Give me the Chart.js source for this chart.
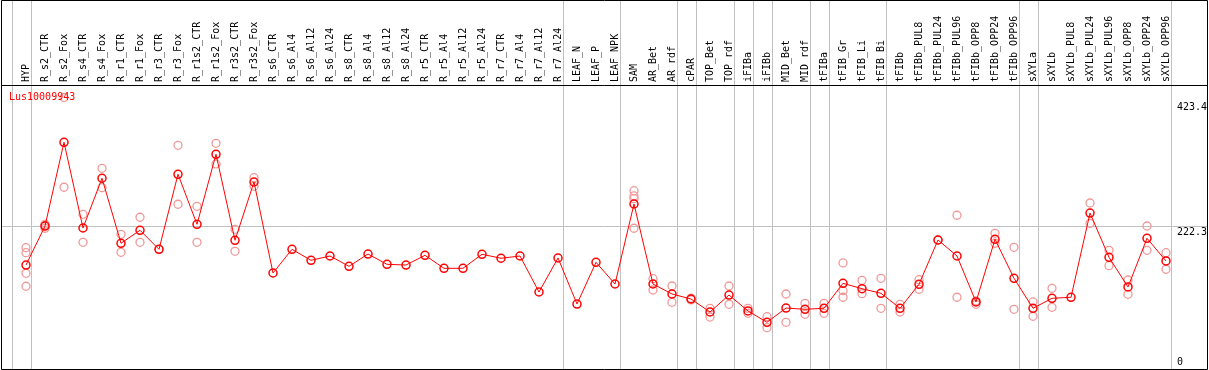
<!DOCTYPE html>
<html>
<head>
<meta charset="utf-8">
<script src="https://cdn.jsdelivr.net/npm/chart.js@4.4.0/dist/chart.umd.min.js"></script>
<style>
html,body{margin:0;padding:0;background:#fff;}
</style>
</head>
<body>
<canvas id="exprChart" width="1209" height="370"></canvas>
<script>
const geneName = 'Lus10009943';

const samples = [
  'HYP','R_s2_CTR','R_s2_Fox','R_s4_CTR','R_s4_Fox','R_r1_CTR','R_r1_Fox','R_r3_CTR','R_r3_Fox',
  'R_r1s2_CTR','R_r1s2_Fox','R_r3s2_CTR','R_r3s2_Fox','R_s6_CTR','R_s6_Al4','R_s6_Al12','R_s6_Al24',
  'R_s8_CTR','R_s8_Al4','R_s8_Al12','R_s8_Al24','R_r5_CTR','R_r5_Al4','R_r5_Al12','R_r5_Al24',
  'R_r7_CTR','R_r7_Al4','R_r7_Al12','R_r7_Al24','LEAF_N','LEAF_P','LEAF_NPK','SAM','AR_Bet','AR_rdf',
  'cPAR','TOP_Bet','TOP_rdf','iFIBa','iFIBb','MID_Bet','MID_rdf','tFIBa','tFIB_Gr','tFIB_Li','tFIB_Bi',
  'tFIBb','tFIBb_PUL8','tFIBb_PUL24','tFIBb_PUL96','tFIBb_OPP8','tFIBb_OPP24','tFIBb_OPP96',
  'sXYLa','sXYLb','sXYLb_PUL8','sXYLb_PUL24','sXYLb_PUL96','sXYLb_OPP8','sXYLb_OPP24','sXYLb_OPP96'
];

// mean expression per sample
const means = [
  163.1,223.7,353.8,220.6,297.9,196.9,217.1,187.5,304.1,
  226.4,335.1,201.5,292.1,150.7,187.5,170.4,177.1,
  161.1,180.2,164.2,163.1,178.2,158.0,158.0,179.8,
  173.6,177.1,121.2,174.0,102.5,167.3,133.6,257.9,133.6,118.1,
  110.3,90.1,116.5,91.7,74.1,96.3,94.3,95.9,134.7,126.3,119.2,
  95.9,133.2,202.0,177.1,105.7,203.1,142.5,
  95.9,111.4,113.0,243.9,175.1,129.0,204.6,169.4
];

// single replicate values per sample
const replicates = [
  [190,182.3,150.2,130.1],[226.4,220.2,224.5],[423.4,283.9],[241.9,198.4],[313.4,283.3],
  [210.8,182.9],[237.3,198.4],[187.5],[349.1,257.5],[254.3,198.4],[352.2,320.1],[218.6,184.4],
  [298.8,285.4],[],[],[],[],[],[],[],[],[],[],[],[],[],[],[],[],[],[],[],
  [278.6,270.4,266.2,220.2],[141.9,124.3],[130.5,105.2],[111.5,108.8],[95.9,82.3],[130.5,102.1],
  [95.9,88.1],[82.8,65.7],[118.1,74.1],[103.6,86.5],[103.6,88.1],[166.3,123.2,113],[139.4,118.6],
  [142.5,95.9],[102.1,90.1],[140.3,125.4],[202],[240.4,113],[107.2,102.1],[212.4,196.9],
  [190.6,94.3],[105.7,83.4],[126.9,97.4],[],[259.5,227.9],[186,162.1],[139.8,117.6],
  [223.7,186],[182.3,156.5]
];

// first sample index of each group (61 = end)
const groupStarts = [0,1,29,32,35,36,38,39,40,42,43,46,53,54,61];
const yTicks = [0,222.3,423.4];

const monoFont = 'DejaVu Sans Mono';

const meanPoints = means.map((v,i) => ({x:i, y:v}));
const repPoints = [];
replicates.forEach((arr,i) => arr.forEach(v => repPoints.push({x:i, y:v})));

function noPad(s){
  s.paddingLeft = 0; s.paddingRight = 0; s.paddingTop = 0; s.paddingBottom = 0;
}

const framePlugin = {
  id:'frame',
  beforeDatasetsDraw(chart){
    const {ctx, scales:{x}} = chart;
    ctx.save();
    ctx.strokeStyle = '#c0c0c0';
    ctx.lineWidth = 1;
    groupStarts.forEach(j => {
      const px = Math.round(x.getPixelForValue(j - 14/19)) + 0.5;
      ctx.beginPath();
      ctx.moveTo(px, 0);
      ctx.lineTo(px, chart.height);
      ctx.stroke();
    });
    ctx.restore();
  },
  afterDraw(chart){
    const {ctx, chartArea} = chart;
    ctx.save();
    ctx.strokeStyle = '#000';
    ctx.lineWidth = 1;
    ctx.beginPath();
    ctx.rect(1.5, 0.5, chart.width - 3, chart.height - 1);
    ctx.moveTo(1.5, chartArea.top + 0.5);
    ctx.lineTo(chart.width - 1.5, chartArea.top + 0.5);
    ctx.stroke();
    ctx.fillStyle = '#ff0000';
    ctx.font = '10px "' + monoFont + '"';
    ctx.textBaseline = 'top';
    ctx.fillText(geneName, 9, 92);
    ctx.restore();
  }
};

new Chart(document.getElementById('exprChart'), {
  type:'line',
  data:{
    datasets:[
      {
        data:meanPoints,
        borderColor:'#ff0000',
        borderWidth:1,
        pointRadius:4,
        pointBorderWidth:1.5,
        pointBorderColor:'#ff0000',
        pointBackgroundColor:'rgba(0,0,0,0)',
        order:0
      },
      {
        data:repPoints,
        showLine:false,
        pointRadius:4,
        pointBorderWidth:1.3,
        pointBorderColor:'#f09898',
        pointBackgroundColor:'rgba(0,0,0,0)',
        order:1
      }
    ]
  },
  options:{
    responsive:false,
    animation:false,
    layout:{autoPadding:false,padding:{left:2,right:0,top:0,bottom:0}},
    plugins:{legend:{display:false},tooltip:{enabled:false}},
    scales:{
      x:{
        type:'linear',
        position:'top',
        min:-24/19,
        max:-24/19 + 1205/19,
        afterBuildTicks:s => { s.ticks = samples.map((_,i) => ({value:i})); },
        afterFit:s => { s.height = 85; noPad(s); },
        grid:{display:false,drawTicks:false},
        border:{display:false},
        ticks:{
          autoSkip:false,
          minRotation:90,
          maxRotation:90,
          padding:3,
          labelOffset:12,
          color:'#000',
          font:{family:monoFont,size:10},
          callback:v => samples[v]
        }
      },
      y:{
        type:'linear',
        position:'right',
        min:0,
        max:442.8,
        afterBuildTicks:s => { s.ticks = yTicks.map(v => ({value:v})); },
        afterFit:s => { s.width = 2; noPad(s); },
        grid:{
          drawTicks:false,
          color:c => (c.tick && c.tick.value === 222.3) ? '#c0c0c0' : 'rgba(0,0,0,0)'
        },
        border:{display:false},
        ticks:{
          autoSkip:false,
          mirror:true,
          crossAlign:'far',
          padding:0,
          color:'#000',
          font:c => ({
            family:monoFont,
            size:10,
            lineHeight: c.tick && c.tick.value === 0 ? 1.6 : (c.tick && c.tick.value > 400 ? 2.0 : 1.1)
          }),
          callback:v => v === 0 ? ['0',''] : ['', String(v)]
        }
      }
    }
  },
  plugins:[framePlugin]
});
</script>
</body>
</html>
